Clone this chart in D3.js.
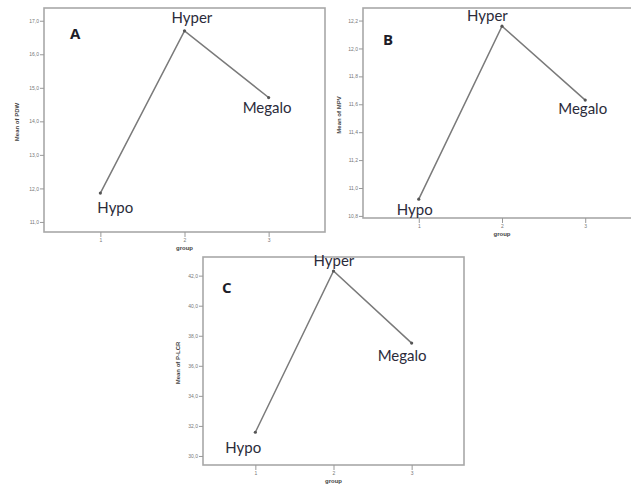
<!DOCTYPE html>
<html lang="en">

<head>
    <meta charset="UTF-8">
    <script src="https://cdnjs.cloudflare.com/ajax/libs/d3/7.9.0/d3.min.js"></script>
    <title>Means by group</title>
    <style>
        body {
            margin: 0;
            background-color: white;
        }

        svg {
            display: block;
        }

        .tick-label {
            font-family: "Liberation Sans", Arial, sans-serif;
            font-size: 5px;
            fill: #777;
        }

        .axis-title {
            font-family: "Liberation Sans", Arial, sans-serif;
            font-size: 6px;
            font-weight: bold;
            fill: #444;
        }

        .group-label {
            font-family: Lato, "Open Sans", sans-serif;
            font-size: 15px;
            fill: #2b2b3a;
        }

        .panel-letter {
            font-family: "Open Sans", Lato, sans-serif;
            font-size: 15px;
            font-weight: bold;
            fill: #1d1d28;
        }
    </style>
</head>

<body>
    <div id="chart"></div>

    <script>
        const width = 631;
        const height = 489;

        // data
        const groups = [1, 2, 3];
        const groupNames = ["Hypo", "Hyper", "Megalo"];

        const pdwMeans = [11.86, 16.70, 14.71];
        const pdwTicks = [11, 12, 13, 14, 15, 16, 17];

        const mpvMeans = [10.92, 12.16, 11.63];
        const mpvTicks = [10.8, 11.0, 11.2, 11.4, 11.6, 11.8, 12.0, 12.2];

        const plcrMeans = [31.58, 42.31, 37.51];
        const plcrTicks = [30, 32, 34, 36, 38, 40, 42];

        const commaFmt = v => d3.format(".1f")(v).replace(".", ",");

        // layout for each panel (frame box, y domain, label offsets)
        const panels = [
            {
                letter: "A", title: "Mean of PDW", values: pdwMeans, ticks: pdwTicks,
                box: { x0: 44, x1: 325, y0: 8, y1: 232 }, yDomain: [10.70, 17.38],
                fmt: commaFmt, letterPos: [70, 39], titleX: 19,
                labelOffsets: [[-3, 20], [-13, -8], [-26, 15]]
            },
            {
                letter: "B", title: "Mean of MPV", values: mpvMeans, ticks: mpvTicks,
                box: { x0: 363, x1: 641, y0: 8, y1: 218 }, yDomain: [10.785, 12.29],
                fmt: commaFmt, letterPos: [383, 45], titleX: 341,
                labelOffsets: [[-22, 16], [-35, -5], [-27, 14]]
            },
            {
                letter: "C", title: "Mean of P-LCR", values: plcrMeans, ticks: plcrTicks,
                box: { x0: 203, x1: 464, y0: 257, y1: 465 }, yDomain: [29.40, 43.24],
                fmt: commaFmt, letterPos: [222, 293], titleX: 180,
                labelOffsets: [[-30, 21], [-20, -5], [-34, 18]]
            }
        ];

        const svg = d3.select("#chart")
            .append("svg")
            .attr("width", width)
            .attr("height", height);

        svg.append("rect")
            .attr("width", width)
            .attr("height", height)
            .attr("fill", "white");

        const drawPanel = (p) => {
            const g = svg.append("g");
            const b = p.box;

            const x = d3.scaleLinear()
                .domain([0.33, 3.67])
                .range([b.x0, b.x1]);

            const y = d3.scaleLinear()
                .domain(p.yDomain)
                .range([b.y1, b.y0]);

            // frame
            g.append("rect")
                .attr("x", b.x0)
                .attr("y", b.y0)
                .attr("width", b.x1 - b.x0)
                .attr("height", b.y1 - b.y0)
                .attr("fill", "white")
                .attr("stroke", "#a8a8a8")
                .attr("stroke-width", 1.6);

            // y axis
            const yAxis = d3.axisLeft(y)
                .tickValues(p.ticks)
                .tickSize(4)
                .tickPadding(1)
                .tickFormat(p.fmt);

            const ya = g.append("g")
                .attr("transform", `translate(${b.x0},0)`)
                .call(yAxis);
            ya.select(".domain").remove();
            ya.selectAll(".tick line").attr("stroke", "#999");
            ya.selectAll(".tick text").attr("class", "tick-label");

            // x axis
            const xAxis = d3.axisBottom(x)
                .tickValues(groups)
                .tickSize(5)
                .tickPadding(1)
                .tickFormat(d3.format("d"));

            const xa = g.append("g")
                .attr("transform", `translate(0,${b.y1})`)
                .call(xAxis);
            xa.select(".domain").remove();
            xa.selectAll(".tick line").attr("stroke", "#999");
            xa.selectAll(".tick text").attr("class", "tick-label");

            // axis titles
            g.append("text")
                .attr("class", "axis-title")
                .attr("text-anchor", "middle")
                .attr("transform", `translate(${p.titleX},${(b.y0 + b.y1) / 2 + 2}) rotate(-90)`)
                .text(p.title);

            g.append("text")
                .attr("class", "axis-title")
                .attr("text-anchor", "middle")
                .attr("x", x(2))
                .attr("y", b.y1 + 18)
                .text("group");

            // line through the means
            const line = d3.line()
                .x((d, i) => x(groups[i]))
                .y(d => y(d));

            g.append("path")
                .datum(p.values)
                .attr("d", line)
                .attr("fill", "none")
                .attr("stroke", "#7a7a7a")
                .attr("stroke-width", 1.5);

            g.selectAll(".pt")
                .data(p.values)
                .enter()
                .append("circle")
                .attr("class", "pt")
                .attr("cx", (d, i) => x(groups[i]))
                .attr("cy", d => y(d))
                .attr("r", 1.6)
                .attr("fill", "#555");

            // group names next to the points
            g.selectAll(".group-label")
                .data(p.values)
                .enter()
                .append("text")
                .attr("class", "group-label")
                .attr("x", (d, i) => x(groups[i]) + p.labelOffsets[i][0])
                .attr("y", (d, i) => y(d) + p.labelOffsets[i][1])
                .text((d, i) => groupNames[i]);

            g.append("text")
                .attr("class", "panel-letter")
                .attr("x", p.letterPos[0])
                .attr("y", p.letterPos[1])
                .text(p.letter);
        };

        panels.forEach(drawPanel);
    </script>

</body>

</html>
